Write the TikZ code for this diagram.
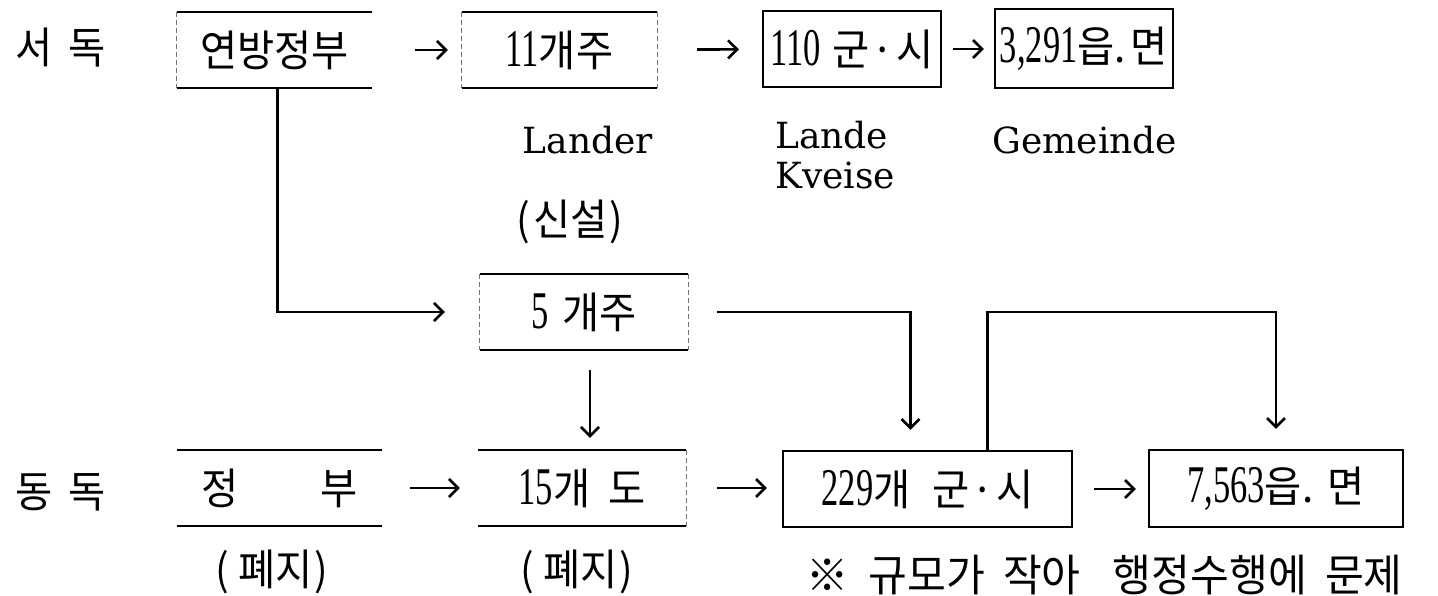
\documentclass[tikz,border=0pt]{standalone}
\usepackage{fontspec}
\usetikzlibrary{arrows.meta,calc}
\setmainfont{DejaVu Serif}
\newfontfamily\kr{Noto Sans CJK KR}[FakeStretch=0.94]
\newfontfamily\krnote{Noto Sans CJK KR}[FakeStretch=0.96]
\newfontfamily\numf{Liberation Serif}[FakeStretch=0.65]
\newfontfamily\latf{DejaVu Serif}
% digits are set larger and condensed, next to the Hangul
\newcommand{\n}[1]{{\numf\fontsize{53}{53}\selectfont #1}}
\newcommand{\dotsep}{\hspace{2pt}·\hspace{2pt}}
\tikzset{
  x=1pt, y=-1pt,
  ktext/.style={font=\kr\fontsize{43}{46}\selectfont, inner sep=0pt},
  ltext/.style={font=\latf\fontsize{36}{40}\selectfont, inner sep=0pt},
  boxbase/.style={ktext, minimum width=#1, minimum height=76pt, anchor=center},
  fullbox/.style={boxbase=#1, draw, line width=2.2pt},
  openbox/.style={boxbase=#1},
  rule/.style={line width=2.4pt},
  faint/.style={line width=1pt, dashed, dash pattern=on 5pt off 3pt, black!55},
  arr/.style={line width=2.6pt, -{Straight Barb[length=9pt, width=18pt, line width=2.6pt]}},
}
\begin{document}
\begin{tikzpicture}
\useasboundingbox (0,0) rectangle (1438,596);

% row labels
\node[ktext] (west) at (61,48) {서\hspace{16pt}독};
\node[ktext] (east) at (61,492) {동\hspace{16pt}독};

% West Germany row
\node[openbox=195pt] (fed)   at (274.5,50) {연방정부};
\node[openbox=195pt] (s11)   at (559.5,50) {\n{11}개주};
\node[fullbox=178pt] (k110)  at (852,49)   {\n{110}\hspace{11pt}군\dotsep 시};
\node[fullbox=178pt, minimum height=79pt] (g3291) at (1084,48.5) {\n{3,291}읍.\hspace{5pt}면};

% labels below the West German boxes
\node[ltext] (lander) at (588,140) {Lander};
\node[ltext, align=left, anchor=north west] (kreise) at (775,121) {Lande\\Kveise};
\node[ltext] (gem) at (1085,140) {Gemeinde};
\node[ktext] (new) at (570,222) {(\hspace{3pt}신설\hspace{2pt})};

% middle box
\node[openbox=208pt] (five) at (584,312) {\n{5}\hspace{14pt}개주};

% East Germany row
\node[openbox=205pt] (gov)   at (279.5,488) {정\hspace{82pt}부};
\node[openbox=208pt] (d15)   at (582,488)   {\n{15}개\hspace{18pt}도};
\node[fullbox=289pt] (c229)  at (927.5,489) {\n{229}개\hspace{22pt}군\dotsep 시};
\node[fullbox=254pt, minimum height=77pt] (e7563) at (1276,488.5) {\n{7,563}읍.\hspace{14pt}면};

\node[ktext] (gone1) at (272,572) {(\hspace{9pt}폐지\hspace{2pt})};
\node[ktext] (gone2) at (577,572) {(\hspace{9pt}폐지\hspace{2pt})};
\node[ktext, font=\krnote\fontsize{44}{46}\selectfont, anchor=west] (note) at (806,575)
  {※\hspace{20pt}규모가\hspace{18pt}작아\hspace{32pt}행정수행에\hspace{18pt}문제};

% partly drawn box outlines: solid top and bottom, faint sides
\foreach \b in {fed,s11,five,gov,d15}{
  \draw[rule] (\b.north west) -- (\b.north east);
  \draw[rule] (\b.south west) -- (\b.south east);
}
\draw[faint] (fed.north west) -- (fed.south west);
\draw[faint] (s11.north west) -- (s11.south west);
\draw[faint] (s11.north east) -- (s11.south east);
\draw[faint] (five.north west) -- (five.south west);
\draw[faint] (five.north east) -- (five.south east);
\draw[faint] (d15.north east) -- (d15.south east);

% horizontal flow arrows
\draw[arr, shorten <=43pt, shorten >=14pt] (fed) -- (s11);
\draw[arr, shorten <=40pt, shorten >=23pt] (s11) -- (k110);
\draw[arr, shorten <=11pt, shorten >=10pt] (k110.east) -- (g3291.west |- k110.east);
\draw[arr, shorten <=28pt, shorten >=18pt] (gov) -- (d15);
\draw[arr, shorten <=31pt, shorten >=15pt] (d15) -- (c229.west |- d15.east);
\draw[arr, shorten <=21pt, shorten >=12pt] (c229) -- (e7563.west |- c229.east);

% federal government to the new states
\coordinate (fdown) at ($(fed.south)+(3,0)$);
\draw[arr, shorten >=35pt] (fdown) |- (five.west);
% new states to the regions below
\coordinate (fivedown) at ($(five.south)+(6,0)$);
\draw[arr, shorten <=20pt, shorten >=12pt] (fivedown) -- (fivedown |- d15.north);
\coordinate (kdrop) at ($(c229.north)+(-17,0)$);
\draw[arr, shorten <=29pt, shorten >=20pt] (five.east) -| (kdrop);
% districts to the municipalities
\coordinate (kup) at ($(c229.north)+(60,0)$);
\draw[arr, shorten >=20pt] (kup) -- (kup |- five.east) -| (e7563.north);
\end{tikzpicture}
\end{document}
